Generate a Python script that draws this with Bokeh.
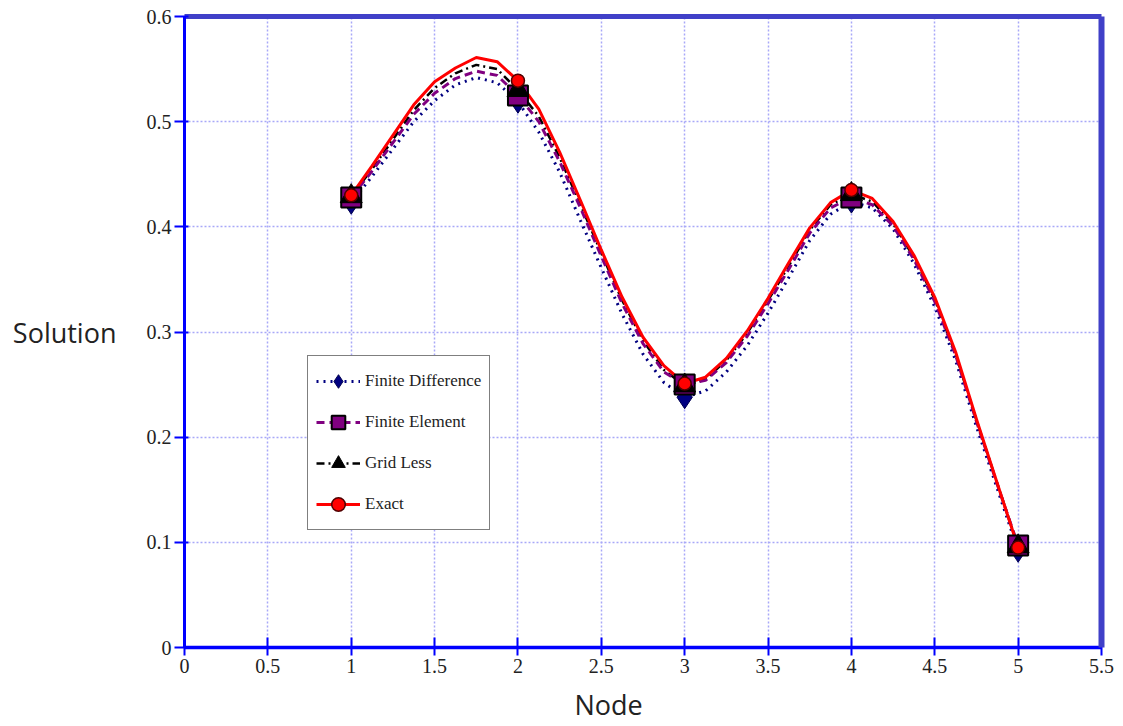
from bokeh.plotting import figure
from bokeh.models import Range1d, FixedTicker, LinearAxis, Legend, LegendItem, Title
from bokeh.embed import file_html
from bokeh.resources import INLINE

# ---- data ----
NODES = [1, 2, 3, 4, 5]
FD_NODE = [0.423, 0.519, 0.238, 0.424, 0.092]
FE_NODE = [0.428, 0.525, 0.250, 0.428, 0.097]
GL_NODE = [0.429, 0.530, 0.249, 0.431, 0.096]
EX_NODE = [0.430, 0.539, 0.251, 0.435, 0.095]

CURVE_X = [1.0, 1.125, 1.25, 1.375, 1.5, 1.625, 1.75, 1.875,
           2.0, 2.125, 2.25, 2.375, 2.5, 2.625, 2.75, 2.875,
           3.0, 3.125, 3.25, 3.375, 3.5, 3.625, 3.75, 3.875,
           4.0, 4.125, 4.25, 4.375, 4.5, 4.625, 4.75, 4.875, 5.0]
FD_CURVE = [0.423, 0.448, 0.474, 0.500, 0.520, 0.535, 0.542, 0.537,
            0.519, 0.490, 0.452, 0.406, 0.361, 0.317, 0.279, 0.252,
            0.238, 0.244, 0.262, 0.287, 0.318, 0.352, 0.387, 0.412,
            0.424, 0.418, 0.398, 0.365, 0.324, 0.273, 0.210, 0.151, 0.092]
FE_CURVE = [0.428, 0.453, 0.480, 0.507, 0.527, 0.541, 0.548, 0.544,
            0.525, 0.500, 0.462, 0.418, 0.372, 0.327, 0.289, 0.262,
            0.250, 0.254, 0.271, 0.296, 0.327, 0.360, 0.394, 0.418,
            0.428, 0.421, 0.401, 0.369, 0.329, 0.278, 0.215, 0.155, 0.097]
GL_CURVE = [0.429, 0.455, 0.483, 0.511, 0.532, 0.546, 0.554, 0.550,
            0.530, 0.505, 0.466, 0.421, 0.375, 0.330, 0.292, 0.264,
            0.249, 0.255, 0.273, 0.299, 0.330, 0.363, 0.397, 0.421,
            0.431, 0.424, 0.403, 0.371, 0.331, 0.279, 0.216, 0.156, 0.096]
EX_CURVE = [0.430, 0.458, 0.487, 0.516, 0.538, 0.551, 0.561, 0.557,
            0.539, 0.512, 0.471, 0.425, 0.378, 0.333, 0.295, 0.268,
            0.251, 0.257, 0.275, 0.301, 0.332, 0.366, 0.399, 0.423,
            0.435, 0.427, 0.405, 0.373, 0.333, 0.281, 0.217, 0.156, 0.095]

SERIES_NAMES = ["Finite Difference", "Finite Element", "Grid Less", "Exact"]

X_TICKS = [0, 0.5, 1, 1.5, 2, 2.5, 3, 3.5, 4, 4.5, 5, 5.5]
X_TICK_LABELS = ["0", "0.5", "1", "1.5", "2", "2.5", "3", "3.5", "4", "4.5", "5", "5.5"]
Y_TICKS = [0, 0.1, 0.2, 0.3, 0.4, 0.5, 0.6]
Y_TICK_LABELS = ["0", "0.1", "0.2", "0.3", "0.4", "0.5", "0.6"]

X_LABEL = "Node"
Y_LABEL = "Solution"

AXIS_BLUE = "#0000ff"
FRAME_BLUE = "#4040c8"
GRID_BLUE = "#a8a8f8"

p = figure(frame_width=917, frame_height=631,
           x_range=Range1d(0, 5.5), y_range=Range1d(0, 0.6),
           output_backend="svg", toolbar_location=None,
           min_border_left=184, min_border_top=16,
           min_border_right=14, min_border_bottom=78)
p.outline_line_color = None
p.background_fill_color = "white"
p.border_fill_color = "white"

# grid
p.xgrid.ticker = FixedTicker(ticks=X_TICKS)
p.ygrid.ticker = FixedTicker(ticks=Y_TICKS)
p.grid.grid_line_color = GRID_BLUE
p.grid.grid_line_dash = "2 2"
p.grid.grid_line_width = 1.5

# x axis
xa = p.xaxis[0]
xa.ticker = FixedTicker(ticks=X_TICKS)
xa.major_label_overrides = {t: l for t, l in zip(X_TICKS, X_TICK_LABELS)}
xa.axis_line_color = AXIS_BLUE
xa.axis_line_width = 3.5
xa.major_tick_line_color = AXIS_BLUE
xa.major_tick_line_width = 2
xa.major_tick_in = 10
xa.major_tick_out = 8
xa.minor_tick_line_color = None
xa.major_label_text_font = "Liberation Serif"
xa.major_label_text_font_size = "20px"
xa.major_label_text_color = "#222222"
xa.major_label_standoff = 3

# y axis
ya = p.yaxis[0]
ya.ticker = FixedTicker(ticks=Y_TICKS)
ya.major_label_overrides = {t: l for t, l in zip(Y_TICKS, Y_TICK_LABELS)}
ya.axis_line_color = AXIS_BLUE
ya.axis_line_width = 3
ya.major_tick_line_color = AXIS_BLUE
ya.major_tick_line_width = 2
ya.major_tick_in = 4
ya.major_tick_out = 10
ya.minor_tick_line_color = None
ya.major_label_text_font = "Liberation Serif"
ya.major_label_text_font_size = "20px"
ya.major_label_text_color = "#222222"
ya.major_label_standoff = 3
ya.axis_label = Y_LABEL
ya.axis_label_orientation = "horizontal"
ya.axis_label_text_font = "Open Sans"
ya.axis_label_text_font_style = "normal"
ya.axis_label_text_font_size = "27px"
ya.axis_label_text_color = "#222222"
ya.axis_label_standoff = 27

# thick frame lines on top and right
top = LinearAxis(ticker=FixedTicker(ticks=[]), axis_line_color=FRAME_BLUE,
                 axis_line_width=5, major_tick_line_color=None,
                 minor_tick_line_color=None, major_label_text_font_size="0px")
right = LinearAxis(ticker=FixedTicker(ticks=[]), axis_line_color=FRAME_BLUE,
                   axis_line_width=6, major_tick_line_color=None,
                   minor_tick_line_color=None, major_label_text_font_size="0px")
p.add_layout(top, "above")
p.add_layout(right, "right")

# x-axis title (sits slightly left of the frame centre, as in the original)
node_title = Title(text=X_LABEL, align="left", offset=390,
                   text_font="Open Sans", text_font_size="27px",
                   text_font_style="normal", text_color="#222222",
                   standoff=16)
p.add_layout(node_title, "below")

# curves
gl_line = p.line(CURVE_X, GL_CURVE, line_color="black", line_width=2.5, line_dash="8 4 2 4")
fd_line = p.line(CURVE_X, FD_CURVE, line_color="#000080", line_width=3, line_dash="2 5")
fe_line = p.line(CURVE_X, FE_CURVE, line_color="#800080", line_width=3, line_dash="8 5")
ex_line = p.line(CURVE_X, EX_CURVE, line_color="#ff0000", line_width=3)

# markers
fd_pts = p.scatter(NODES, FD_NODE, marker="diamond", size=23,
                   fill_color="#000080", line_color="#000050", line_width=1)
fe_pts = p.scatter(NODES, FE_NODE, marker="square", size=20,
                   fill_color="#800080", line_color="black", line_width=2)
gl_pts = p.scatter(NODES, GL_NODE, marker="triangle", size=22,
                   fill_color="black", line_color="black", line_width=1)
ex_pts = p.scatter(NODES, EX_NODE, marker="circle", size=13,
                   fill_color="#ff0000", line_color="#500000", line_width=1.5)

legend = Legend(items=[
    LegendItem(label=SERIES_NAMES[0], renderers=[fd_line, fd_pts]),
    LegendItem(label=SERIES_NAMES[1], renderers=[fe_line, fe_pts]),
    LegendItem(label=SERIES_NAMES[2], renderers=[gl_line, gl_pts]),
    LegendItem(label=SERIES_NAMES[3], renderers=[ex_line, ex_pts]),
], location=(123, 117))
legend.label_text_font = "Liberation Serif"
legend.label_text_font_size = "17px"
legend.label_text_color = "#222222"
legend.border_line_color = "black"
legend.border_line_width = 1.5
legend.background_fill_alpha = 1
legend.glyph_width = 44
legend.glyph_height = 34
legend.spacing = 7
legend.padding = 8
legend.margin = 0
legend.label_standoff = 5
p.add_layout(legend)

open("out.html", "w").write(file_html(p, INLINE))
